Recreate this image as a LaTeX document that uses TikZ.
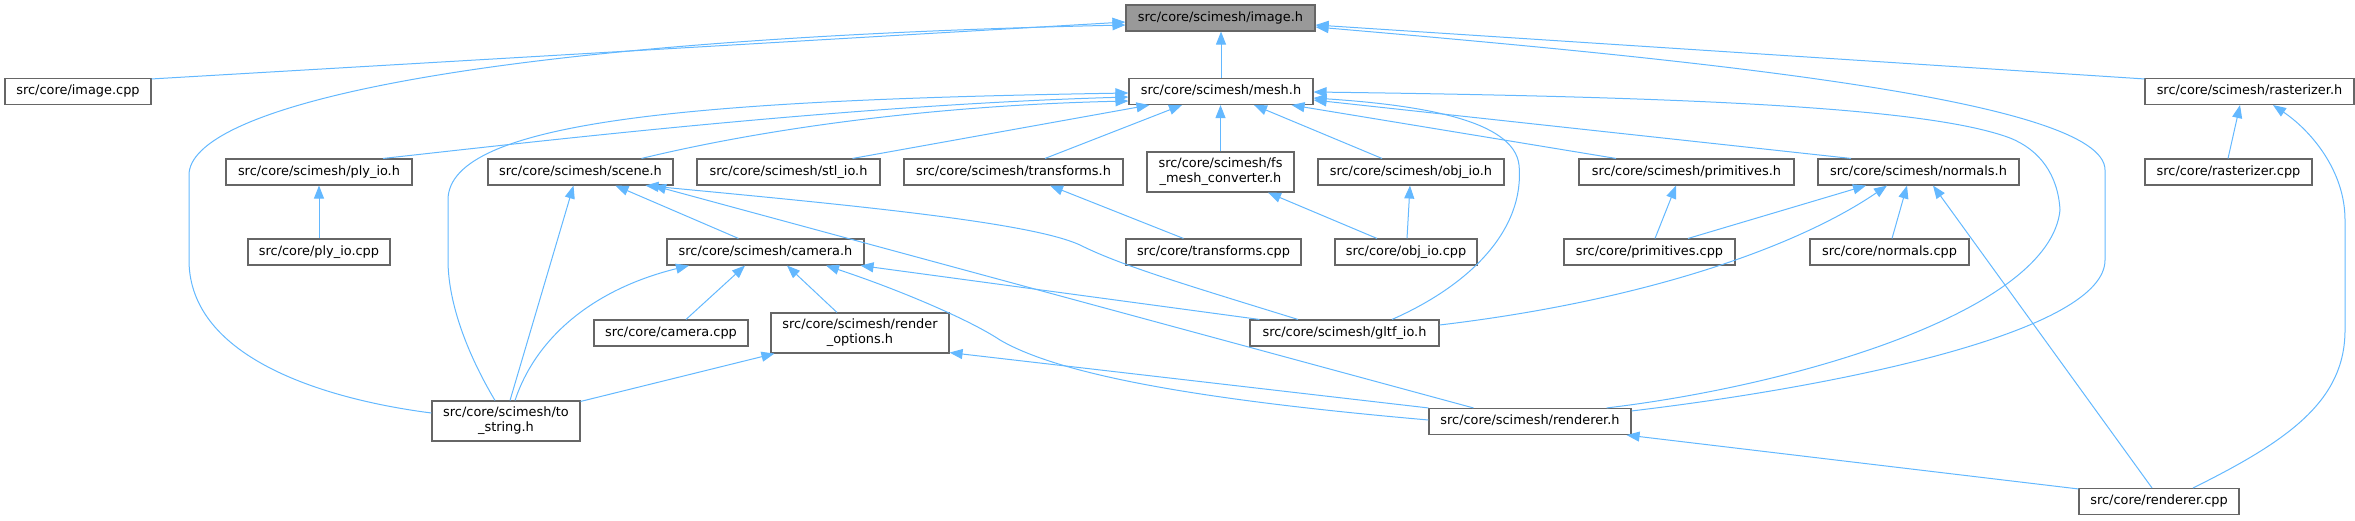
\documentclass[tikz,border=0pt]{standalone}
\usepackage{fontspec}
\setmainfont{DejaVu Sans}
\usetikzlibrary{arrows.meta,calc}
\definecolor{edgec}{HTML}{63B8FF}
\definecolor{bord}{HTML}{666666}
\definecolor{mainfill}{HTML}{999999}
\begin{document}
\begin{tikzpicture}[x=1pt,y=-1pt,
 box/.style={draw=bord, line width=1.1pt, fill=white, inner sep=0pt, minimum height=26pt,
   font=\fontsize{12.9}{15}\selectfont, text height=9.5pt, text depth=3.5pt},
 boxtwo/.style={draw=bord, line width=1.1pt, fill=white, inner sep=0pt, minimum height=40pt,
   font=\fontsize{12.9}{15}\selectfont, align=center},
 edge/.style={draw=edgec, line width=1pt, -{Triangle[length=13pt,width=10pt]}},
]
\useasboundingbox (0,0) rectangle (2355,520);

% nodes
\node[box, minimum width=189pt, fill=mainfill] (imageh) at (1220.5,18) {src/core/scimesh/image.h};
\node[box, minimum width=146pt] (imagecpp) at (78,91.5) {src/core/image.cpp};
\node[box, minimum width=184pt] (meshh) at (1221,91.5) {src/core/scimesh/mesh.h};
\node[box, minimum width=209pt] (rasterh) at (2249.5,91.5) {src/core/scimesh/rasterizer.h};
\node[box, minimum width=186pt] (plyh) at (319,172) {src/core/scimesh/ply\_io.h};
\node[box, minimum width=185pt] (sceneh) at (580.5,172) {src/core/scimesh/scene.h};
\node[box, minimum width=183pt] (stlh) at (788.5,172) {src/core/scimesh/stl\_io.h};
\node[box, minimum width=219pt] (transh) at (1013.5,172) {src/core/scimesh/transforms.h};
\node[boxtwo, minimum width=147pt] (fsh) at (1220.5,172) {src/core/scimesh/fs\\\_mesh\_converter.h};
\node[box, minimum width=186pt] (objh) at (1411,172) {src/core/scimesh/obj\_io.h};
\node[box, minimum width=215pt] (primh) at (1686.5,172) {src/core/scimesh/primitives.h};
\node[box, minimum width=201pt] (normh) at (1918.5,172) {src/core/scimesh/normals.h};
\node[box, minimum width=167pt] (rastcpp) at (2228.5,172) {src/core/rasterizer.cpp};
\node[box, minimum width=142pt] (plycpp) at (319,252) {src/core/ply\_io.cpp};
\node[box, minimum width=197pt] (camh) at (765.5,252) {src/core/scimesh/camera.h};
\node[box, minimum width=175pt] (transcpp) at (1213.5,252) {src/core/transforms.cpp};
\node[box, minimum width=142pt] (objcpp) at (1406,252) {src/core/obj\_io.cpp};
\node[box, minimum width=171pt] (primcpp) at (1649.5,252) {src/core/primitives.cpp};
\node[box, minimum width=159pt] (normcpp) at (1889.5,252) {src/core/normals.cpp};
\node[box, minimum width=154pt] (camcpp) at (671,333) {src/core/camera.cpp};
\node[boxtwo, minimum width=178pt] (roh) at (860,333) {src/core/scimesh/render\\\_options.h};
\node[box, minimum width=189pt] (gltfh) at (1344.5,333) {src/core/scimesh/gltf\_io.h};
\node[boxtwo, minimum width=148pt] (tostrh) at (506,421) {src/core/scimesh/to\\\_string.h};
\node[box, minimum width=202pt] (rendh) at (1530,421.5) {src/core/scimesh/renderer.h};
\node[box, minimum width=160pt] (rendcpp) at (2159,501.5) {src/core/renderer.cpp};

% edges into image.h
\draw[edge] ($(imagecpp.north east)+(0,1)$) -- ($(imageh.west)+(0,4)$);
\draw[edge] ($(tostrh.west)+(0,-8)$) .. controls (330,400) and (189,360) .. (189,260) -- (189,175) .. controls (189,110) and (450,40) .. ($(imageh.west)+(0,7)$);
\draw[edge] (meshh.north) -- (meshh.north |- imageh.south);
\draw[edge] ($(rasterh.north west)+(0,1)$) -- ($(imageh.east)+(0,7)$);
\draw[edge] ($(rendh.north east)+(0,3)$) .. controls (1850,385) and (2105,330) .. (2105,260) -- (2105,170) .. controls (2105,100) and (1700,60) .. ($(imageh.east)+(0,9)$);

% edges into mesh.h
\draw[edge] ($(tostrh.north)+(-11,0)$) .. controls (465,350) and (448,300) .. (448,260) -- (448,200) .. controls (448,120) and (700,100) .. ($(meshh.west)+(0,1.5)$);
\draw[edge] ($(plyh.north)+(64,0)$) .. controls (550,140) and (850,105) .. ($(meshh.west)+(0,5.5)$);
\draw[edge] ($(sceneh.north)+(61,0)$) .. controls (780,125) and (950,105) .. ($(meshh.west)+(0,9.5)$);
\draw[edge] ($(stlh.north)+(64,0)$) -- ($(meshh.south west)+(21,0)$);
\draw[edge] ($(transh.north)+(31.5,0)$) -- ($(meshh.south)+(-39,0)$);
\draw[edge] (fsh.north) -- (fsh.north |- meshh.south);
\draw[edge] ($(objh.north)+(-29,0)$) -- ($(meshh.south)+(33,0)$);
\draw[edge] ($(primh.north)+(-70.5,0)$) -- ($(meshh.south east)+(-22,0)$);
\draw[edge] ($(normh.north)+(-67.5,0)$) -- ($(meshh.east)+(0,8.5)$);
\draw[edge] ($(gltfh.north)+(47.5,0)$) .. controls (1470,285) and (1525,230) .. (1519,165) .. controls (1514,120) and (1420,105) .. ($(meshh.east)+(0,6.5)$);
\draw[edge] ($(rendh.north east)+(-25,0)$) .. controls (1800,385) and (2050,310) .. (2060,210) .. controls (2058,175) and (2040,150) .. (2010,138) .. controls (1930,108) and (1700,97) .. ($(meshh.east)+(0,0.5)$);

% edges into scene.h
\draw[edge] ($(camh.north)+(-27,0)$) -- ($(sceneh.south)+(35,0)$);
\draw[edge] ($(tostrh.north)+(4,0)$) -- ($(sceneh.south)+(-7,0)$);
\draw[edge] ($(gltfh.north)+(-46.5,0)$) .. controls (1180,283) and (1120,265) .. (1080,245) .. controls (1030,222) and (850,205) .. ($(sceneh.south)+(65,0)$);
\draw[edge] ($(rendh.north west)+(45,0)$) -- ($(sceneh.south)+(72.5,0)$);

% edges into camera.h
\draw[edge] ($(tostrh.north)+(9,0)$) .. controls (535,340) and (590,290) .. ($(camh.south)+(-76.5,0)$);
\draw[edge] ($(camcpp.north)+(15,0)$) -- ($(camh.south)+(-20.5,0)$);
\draw[edge] ($(roh.north)+(-23,0)$) -- ($(camh.south)+(21.5,0)$);
\draw[edge] ($(rendh.west)+(0,-1.5)$) .. controls (1200,400) and (1060,375) .. (1000,340) .. controls (970,320) and (900,290) .. ($(camh.south)+(60.5,0)$);
\draw[edge] ($(gltfh.north west)+(10,0)$) -- ($(camh.south east)+(-4,0)$);

% edges into render_options.h
\draw[edge] ($(tostrh.north east)+(0,1)$) -- ($(roh.south west)+(4,0)$);
\draw[edge] (rendh.north west) -- ($(roh.south east)+(0,-1)$);

% other edges
\draw[edge] (plycpp.north) -- (plyh.south);
\draw[edge] ($(transcpp.north)+(-30,0)$) -- ($(transh.south)+(36.5,0)$);
\draw[edge] ($(objcpp.north)+(-29,0)$) -- ($(fsh.south)+(47.5,0)$);
\draw[edge] ($(objcpp.north)+(1,0)$) -- ($(objh.south)+(-1,0)$);
\draw[edge] ($(primcpp.north)+(5.5,0)$) -- ($(primh.south)+(-10.5,0)$);
\draw[edge] ($(primcpp.north)+(38.5,0)$) -- ($(normh.south)+(-52.5,0)$);
\draw[edge] ($(gltfh.east)+(0,-8)$) .. controls (1650,300) and (1800,245) .. ($(normh.south)+(-31.5,0)$);
\draw[edge] ($(normcpp.north)+(2.5,0)$) -- ($(normh.south)+(-11.5,0)$);
\draw[edge] ($(rendcpp.north)+(-7,0)$) -- ($(normh.south)+(14.5,0)$);
\draw[edge] ($(rastcpp.north)+(-0.5,0)$) -- ($(rasterh.south)+(-9.5,0)$);
\draw[edge] ($(rendcpp.north)+(34,0)$) .. controls (2290,440) and (2345,400) .. (2345,330) -- (2345,220) .. controls (2345,170) and (2310,130) .. ($(rasterh.south)+(23.5,0)$);
\draw[edge] ($(rendcpp.north west)+(0,1)$) -- ($(rendh.south east)+(-5,0)$);
\end{tikzpicture}
\end{document}
